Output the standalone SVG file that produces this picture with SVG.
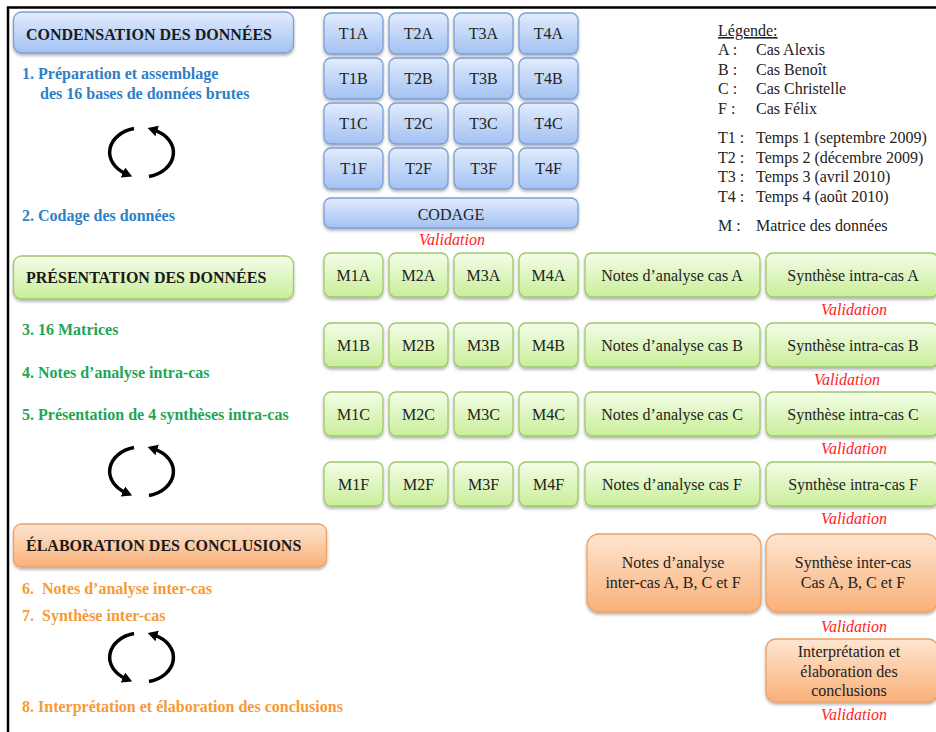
<svg xmlns="http://www.w3.org/2000/svg" xmlns:xlink="http://www.w3.org/1999/xlink" width="936" height="732" viewBox="0 0 936 732">
<defs>
<linearGradient id="gBlue" x1="0" y1="0" x2="0" y2="1"><stop offset="0" stop-color="#e2ecfd"/><stop offset="1" stop-color="#a3c1f2"/></linearGradient>
<linearGradient id="gGreen" x1="0" y1="0" x2="0" y2="1"><stop offset="0" stop-color="#f4fde8"/><stop offset="1" stop-color="#c9ee9a"/></linearGradient>
<linearGradient id="gOrange" x1="0" y1="0" x2="0" y2="1"><stop offset="0" stop-color="#fee6d1"/><stop offset="1" stop-color="#fab078"/></linearGradient>
<filter id="sh" x="-10%" y="-20%" width="120%" height="150%"><feDropShadow dx="0" dy="2" stdDeviation="1.5" flood-color="#000" flood-opacity="0.3"/></filter>
<marker id="ah" markerUnits="userSpaceOnUse" markerWidth="13" markerHeight="12" refX="3" refY="5.5" orient="auto"><path d="M0,0 L10,5.5 L0,11 z" fill="#000"/></marker>
<g id="cycle" fill="none" stroke="#000" stroke-width="3.5">
<path d="M134,128.5 A31.5,24.5 0 0 0 125.7,173.7" marker-end="url(#ah)"/>
<path d="M149,176.5 A31.5,24.5 0 0 0 154.3,130.1" marker-end="url(#ah)"/>
</g>
</defs>
<style>
.b{fill:url(#gBlue);stroke:#7c9fd6;stroke-width:1.3;filter:url(#sh)}
.g{fill:url(#gGreen);stroke:#9ec96b;stroke-width:1.3;filter:url(#sh)}
.o{fill:url(#gOrange);stroke:#eea064;stroke-width:1.3;filter:url(#sh)}
text{font-family:"Liberation Serif","Times New Roman",serif;font-size:16px;fill:#222}
.c{text-anchor:middle}
.h{font-weight:bold;fill:#1a1a1a}
.sb{font-weight:bold;fill:#2e80c6}
.sg{font-weight:bold;fill:#1fa556}
.so{font-weight:bold;fill:#f79a36}
.v{font-style:italic;fill:#ff2222;text-anchor:middle}
</style>
<rect width="936" height="732" fill="#fff"/>
<path d="M8,732 V7.5 H936" fill="none" stroke="#000" stroke-width="2.5"/>

<!-- left column -->
<g id="hdr-condensation"><rect class="b" x="13.5" y="12" width="280" height="41" rx="8"/><text class="h" x="26" y="39.5">CONDENSATION DES DONNÉES</text></g>
<g id="step1"><text class="sb" x="22" y="79">1. Préparation et assemblage</text><text class="sb" x="40" y="98.5">des 16 bases de données brutes</text></g>
<g id="cycle1"><use xlink:href="#cycle"/></g>
<g id="step2"><text class="sb" x="22" y="221">2. Codage des données</text></g>

<g id="hdr-presentation"><rect class="g" x="13.5" y="256" width="280" height="43" rx="8"/><text class="h" x="26" y="283">PRÉSENTATION DES DONNÉES</text></g>
<g id="step3"><text class="sg" x="22" y="335">3. 16 Matrices</text></g>
<g id="step4"><text class="sg" x="22" y="378">4. Notes d’analyse intra-cas</text></g>
<g id="step5"><text class="sg" x="22" y="420">5. Présentation de 4 synthèses intra-cas</text></g>
<g id="cycle2"><use xlink:href="#cycle" transform="translate(0,319)"/></g>

<g id="hdr-elaboration"><rect class="o" x="13.5" y="524" width="313" height="43" rx="8"/><text class="h" x="26" y="551">ÉLABORATION DES CONCLUSIONS</text></g>
<g id="step6"><text class="so" x="22" y="594" xml:space="preserve">6.  Notes d’analyse inter-cas</text></g>
<g id="step7"><text class="so" x="22" y="621" xml:space="preserve">7.  Synthèse inter-cas</text></g>
<g id="cycle3"><use xlink:href="#cycle" transform="translate(0,505)"/></g>
<g id="step8"><text class="so" x="22" y="712">8. Interprétation et élaboration des conclusions</text></g>

<!-- T grid -->
<g id="T1A"><rect class="b" x="324" y="13" width="59" height="41" rx="7"/><text class="c" x="353.5" y="39">T1A</text></g>
<g id="T2A"><rect class="b" x="389" y="13" width="59" height="41" rx="7"/><text class="c" x="418.5" y="39">T2A</text></g>
<g id="T3A"><rect class="b" x="454" y="13" width="59" height="41" rx="7"/><text class="c" x="483.5" y="39">T3A</text></g>
<g id="T4A"><rect class="b" x="519" y="13" width="59" height="41" rx="7"/><text class="c" x="548.5" y="39">T4A</text></g>
<g id="T1B"><rect class="b" x="324" y="58" width="59" height="41" rx="7"/><text class="c" x="353.5" y="84">T1B</text></g>
<g id="T2B"><rect class="b" x="389" y="58" width="59" height="41" rx="7"/><text class="c" x="418.5" y="84">T2B</text></g>
<g id="T3B"><rect class="b" x="454" y="58" width="59" height="41" rx="7"/><text class="c" x="483.5" y="84">T3B</text></g>
<g id="T4B"><rect class="b" x="519" y="58" width="59" height="41" rx="7"/><text class="c" x="548.5" y="84">T4B</text></g>
<g id="T1C"><rect class="b" x="324" y="103" width="59" height="41" rx="7"/><text class="c" x="353.5" y="129">T1C</text></g>
<g id="T2C"><rect class="b" x="389" y="103" width="59" height="41" rx="7"/><text class="c" x="418.5" y="129">T2C</text></g>
<g id="T3C"><rect class="b" x="454" y="103" width="59" height="41" rx="7"/><text class="c" x="483.5" y="129">T3C</text></g>
<g id="T4C"><rect class="b" x="519" y="103" width="59" height="41" rx="7"/><text class="c" x="548.5" y="129">T4C</text></g>
<g id="T1F"><rect class="b" x="324" y="148" width="59" height="41" rx="7"/><text class="c" x="353.5" y="174">T1F</text></g>
<g id="T2F"><rect class="b" x="389" y="148" width="59" height="41" rx="7"/><text class="c" x="418.5" y="174">T2F</text></g>
<g id="T3F"><rect class="b" x="454" y="148" width="59" height="41" rx="7"/><text class="c" x="483.5" y="174">T3F</text></g>
<g id="T4F"><rect class="b" x="519" y="148" width="59" height="41" rx="7"/><text class="c" x="548.5" y="174">T4F</text></g>
<g id="codage"><rect class="b" x="324" y="198" width="254" height="30" rx="7"/><text class="c" x="451" y="220">CODAGE</text></g>
<g id="val-codage"><text class="v" x="452" y="245">Validation</text></g>

<!-- legend -->
<g id="legend">
<text x="718" y="36" text-decoration="underline">Légende:</text>
<text x="718" y="55">A :</text><text x="756" y="55">Cas Alexis</text>
<text x="718" y="75">B :</text><text x="756" y="75">Cas Benoît</text>
<text x="718" y="94">C :</text><text x="756" y="94">Cas Christelle</text>
<text x="718" y="114">F :</text><text x="756" y="114">Cas Félix</text>
<text x="718" y="143">T1 :</text><text x="756" y="143">Temps 1 (septembre 2009)</text>
<text x="718" y="163">T2 :</text><text x="756" y="163">Temps 2 (décembre 2009)</text>
<text x="718" y="182">T3 :</text><text x="756" y="182">Temps 3 (avril 2010)</text>
<text x="718" y="202">T4 :</text><text x="756" y="202">Temps 4 (août 2010)</text>
<text x="718" y="231">M :</text><text x="756" y="231">Matrice des données</text>
</g>

<!-- M rows -->
<g id="M1A"><rect class="g" x="324" y="253" width="59" height="44" rx="7"/><text class="c" x="353.5" y="281">M1A</text></g>
<g id="M2A"><rect class="g" x="389" y="253" width="59" height="44" rx="7"/><text class="c" x="418.5" y="281">M2A</text></g>
<g id="M3A"><rect class="g" x="454" y="253" width="59" height="44" rx="7"/><text class="c" x="483.5" y="281">M3A</text></g>
<g id="M4A"><rect class="g" x="519" y="253" width="59" height="44" rx="7"/><text class="c" x="548.5" y="281">M4A</text></g>
<g id="notesA"><rect class="g" x="585" y="253" width="175" height="44" rx="7"/><text class="c" x="672" y="281">Notes d’analyse cas A</text></g>
<g id="synthA"><rect class="g" x="766" y="253" width="172" height="44" rx="7"/><text class="c" x="853" y="281">Synthèse intra-cas A</text></g>
<g id="valA"><text class="v" x="854" y="315">Validation</text></g>

<g id="M1B"><rect class="g" x="324" y="323" width="59" height="44" rx="7"/><text class="c" x="353.5" y="351">M1B</text></g>
<g id="M2B"><rect class="g" x="389" y="323" width="59" height="44" rx="7"/><text class="c" x="418.5" y="351">M2B</text></g>
<g id="M3B"><rect class="g" x="454" y="323" width="59" height="44" rx="7"/><text class="c" x="483.5" y="351">M3B</text></g>
<g id="M4B"><rect class="g" x="519" y="323" width="59" height="44" rx="7"/><text class="c" x="548.5" y="351">M4B</text></g>
<g id="notesB"><rect class="g" x="585" y="323" width="175" height="44" rx="7"/><text class="c" x="672" y="351">Notes d’analyse cas B</text></g>
<g id="synthB"><rect class="g" x="766" y="323" width="172" height="44" rx="7"/><text class="c" x="853" y="351">Synthèse intra-cas B</text></g>
<g id="valB"><text class="v" x="847" y="385">Validation</text></g>

<g id="M1C"><rect class="g" x="324" y="392" width="59" height="44" rx="7"/><text class="c" x="353.5" y="420">M1C</text></g>
<g id="M2C"><rect class="g" x="389" y="392" width="59" height="44" rx="7"/><text class="c" x="418.5" y="420">M2C</text></g>
<g id="M3C"><rect class="g" x="454" y="392" width="59" height="44" rx="7"/><text class="c" x="483.5" y="420">M3C</text></g>
<g id="M4C"><rect class="g" x="519" y="392" width="59" height="44" rx="7"/><text class="c" x="548.5" y="420">M4C</text></g>
<g id="notesC"><rect class="g" x="585" y="392" width="175" height="44" rx="7"/><text class="c" x="672" y="420">Notes d’analyse cas C</text></g>
<g id="synthC"><rect class="g" x="766" y="392" width="172" height="44" rx="7"/><text class="c" x="853" y="420">Synthèse intra-cas C</text></g>
<g id="valC"><text class="v" x="854" y="454">Validation</text></g>

<g id="M1F"><rect class="g" x="324" y="462" width="59" height="44" rx="7"/><text class="c" x="353.5" y="490">M1F</text></g>
<g id="M2F"><rect class="g" x="389" y="462" width="59" height="44" rx="7"/><text class="c" x="418.5" y="490">M2F</text></g>
<g id="M3F"><rect class="g" x="454" y="462" width="59" height="44" rx="7"/><text class="c" x="483.5" y="490">M3F</text></g>
<g id="M4F"><rect class="g" x="519" y="462" width="59" height="44" rx="7"/><text class="c" x="548.5" y="490">M4F</text></g>
<g id="notesF"><rect class="g" x="585" y="462" width="175" height="44" rx="7"/><text class="c" x="672" y="490">Notes d’analyse cas F</text></g>
<g id="synthF"><rect class="g" x="766" y="462" width="172" height="44" rx="7"/><text class="c" x="853" y="490">Synthèse intra-cas F</text></g>
<g id="valF"><text class="v" x="854" y="524">Validation</text></g>

<!-- orange -->
<g id="notesInter"><rect class="o" x="587" y="534" width="174" height="78" rx="12"/><text class="c" x="673" y="568">Notes d’analyse</text><text class="c" x="673" y="588">inter-cas A, B, C et F</text></g>
<g id="synthInter"><rect class="o" x="766" y="534" width="172" height="78" rx="12"/><text class="c" x="853" y="568">Synthèse inter-cas</text><text class="c" x="853" y="588">Cas A, B, C et F</text></g>
<g id="valInter"><text class="v" x="854" y="632">Validation</text></g>
<g id="interpretation"><rect class="o" x="766" y="639" width="172" height="63" rx="10"/><text class="c" x="849" y="657">Interprétation et</text><text class="c" x="849" y="677">élaboration des</text><text class="c" x="849" y="696">conclusions</text></g>
<g id="valFinal"><text class="v" x="854" y="720">Validation</text></g>

<g id="connectors"></g>
</svg>
